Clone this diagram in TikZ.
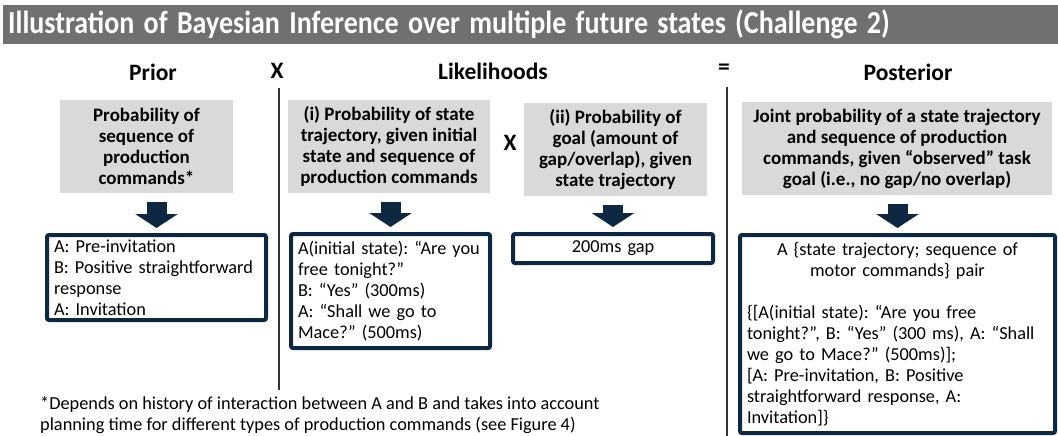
\documentclass[tikz,border=0pt]{standalone}
\usepackage{fontspec}
\setmainfont{Carlito}
\usepackage{graphicx}
\usetikzlibrary{arrows.meta}

\definecolor{bargray}{RGB}{112,112,112}
\definecolor{qgray}{RGB}{217,217,217}
\definecolor{navy}{RGB}{14,40,65}
\frenchspacing

\begin{document}
\begin{tikzpicture}[x=1pt, y=-1pt,
        head/.style={font=\fontsize{23.5}{26}\selectfont\bfseries, inner sep=0pt},
        question/.style={fill=qgray, align=center, inner sep=2pt, minimum height=93pt, font=\fontsize{19}{21}\selectfont\bfseries},
        answer/.style={draw=navy, line width=4pt, rounded corners=2pt, align=left, inner xsep=7pt, inner ysep=2pt, font=\fontsize{18.3}{21}\selectfont},
        bigarrow/.style={draw=navy, line width=20pt, -{Triangle[width=42pt,length=14pt]}, shorten <=9pt, shorten >=5pt},
        divider/.style={line width=1.5pt, black!80}]
        
        \useasboundingbox (0,0) rectangle (1058,436);
        
        % Title bar
        \node at (3,5) [anchor=north west, fill=bargray, minimum width=1055pt, minimum height=39pt, inner xsep=5pt, text width=1045pt, align=left, text=white, font=\fontsize{32}{34}\selectfont\bfseries] (title) {\scalebox{0.875}[1]{Illustration of Bayesian Inference over multiple future states (Challenge 2)}};
        
        % Column heads
        \node at (153,72) [head] (prior) {Prior};
        \node at (277,71) [head] (times1) {X};
        \node at (493,71) [head] (likeli) {Likelihoods};
        \node at (724,69) [head] (equals) {=};
        \node at (908,72) [head] (post) {Posterior};
        
        % Dividers
        \draw [divider] (279,88) -- (279,390);
        \draw [divider] (727,87) -- (727,436);
        
        % Prior
        \node at (146.5,146.5) [question, minimum width=173pt] (priorq) {Probability of\\sequence of\\production\\commands*};
        \node at (156.5,277.5) [answer, minimum width=219pt, minimum height=85pt, text width=205pt] (priora) {A: Pre-invitation\\B: Positive straightforward\\response\\A: Invitation};
        \draw [bigarrow] (priora.north |- priorq.south) -- (priora.north);
        
        % Likelihood (i)
        \node at (389,146.5) [question, minimum width=202pt] (likeq1) {(i) Probability of state\\trajectory, given initial\\state and sequence of\\production commands};
        \node at (390.5,291) [answer, minimum width=199pt, minimum height=114pt, text width=185pt] (likea1) {A(initial state): “Are you\\free tonight?”\\B: “Yes” (300ms)\\A: “Shall we go to\\Mace?” (500ms)};
        \draw [bigarrow] (likea1.north |- likeq1.south) -- (likea1.north);
        
        \node at (510,143) [head] (times2) {X};
        
        % Likelihood (ii)
        \node at (615.5,149.5) [question, minimum width=183pt] (likeq2) {(ii) Probability of\\goal (amount of\\gap/overlap), given\\state trajectory};
        \node at (613,248.5) [answer, align=center, minimum width=200pt, minimum height=29pt, text width=186pt] (likea2) {200ms gap};
        \draw [bigarrow] (likea2.north |- likeq2.south) -- (likea2.north);
        
        % Posterior
        \node at (897,148.5) [question, minimum width=310pt] (postq) {Joint probability of a state trajectory\\and sequence of production\\commands, given “observed” task\\goal (i.e., no gap/no overlap)};
        \node at (897.5,334) [answer, minimum width=315pt, minimum height=198pt, text width=301pt] (posta) {\centering A \{state trajectory; sequence of\\motor commands\} pair\par\vspace{21pt}\raggedright\{[A(initial state): “Are you free\\tonight?”, B: “Yes” (300 ms), A: “Shall\\we go to Mace?” (500ms)];\\{}[A: Pre-invitation, B: Positive\\straightforward response, A:\\Invitation]\}};
        \draw [bigarrow] (posta.north |- postq.south) -- (posta.north);
        
        % Footnote
        \node at (40,396) [anchor=north west, align=left, inner sep=0pt, font=\fontsize{18.3}{21}\selectfont] (note) {*Depends on history of interaction between A and B and takes into account\\planning time for different types of production commands (see Figure 4)};
        
    \end{tikzpicture}
\end{document}
